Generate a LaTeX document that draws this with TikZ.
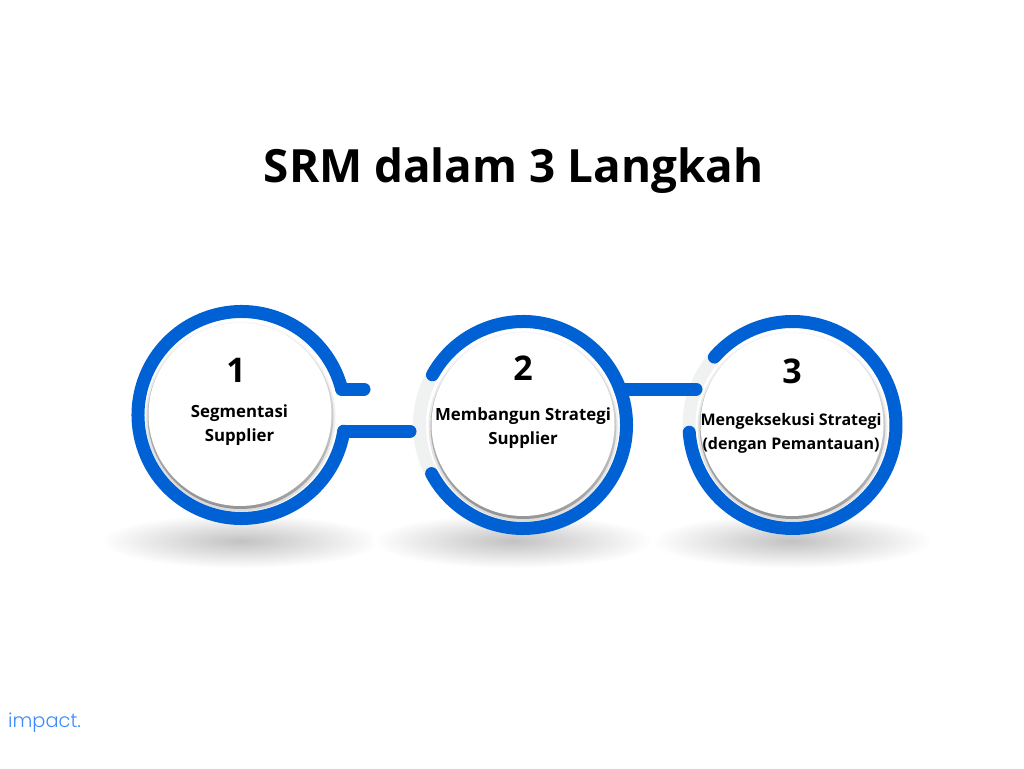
\documentclass[tikz,border=0pt]{standalone}
\usepackage{fontspec}
\setmainfont{Open Sans}
\newfontfamily\logofont{Poppins Light}
\usetikzlibrary{calc}
\definecolor{ringblue}{HTML}{0061D5}
\definecolor{ringgrey}{HTML}{F0F2F2}
\definecolor{logoblue}{HTML}{3B8CFF}
\tikzset{
  disc/.style={circle, fill=white, minimum size=183pt, inner sep=0pt},
  ring/.style={line width=13pt, ringblue, line cap=round},
  track/.style={line width=13pt, ringgrey},
  floor/.style={inner color=black!24, outer color=white},
  halo/.style={top color=black!2, bottom color=black!14, shading angle=-15},
  rim/.style={top color=black!9, bottom color=black!42, shading angle=-15},
  numlabel/.style={font=\bfseries\fontsize{34}{34}\selectfont},
  steplabel/.style={font=\bfseries\fontsize{16.8}{24}\selectfont, align=center}
}
\begin{document}
\begin{tikzpicture}[x=1pt,y=1pt]
  \useasboundingbox (0,0) rectangle (1024,768);
  \fill[white] (0,0) rectangle (1024,768);

  % Title
  \node[font=\bfseries\fontsize{45.8}{46}\selectfont] (title) at (513.5,597) {SRM dalam 3 Langkah};

  % Floor shadows
  \shade[floor] (241,227) ellipse [x radius=140, y radius=27];
  \shade[floor] (513,227) ellipse [x radius=140, y radius=27];
  \shade[floor] (792,227) ellipse [x radius=140, y radius=27];

  % Ring centres
  \coordinate (mid1) at (241.5,353);
  \coordinate (mid2) at (523,343);
  \coordinate (mid3) at (792.5,343);

  % Grey tracks
  \draw[track] (mid2) circle [radius=103.5];
  \draw[track] (mid3) circle [radius=103.5];

  % Rims
  \shade[halo] (240.5,351.5) circle [radius=95];
  \shade[halo] (523.5,341.5) circle [radius=95];
  \shade[halo] (792.5,341.5) circle [radius=95];
  \shade[rim] (240.5,352) circle [radius=93];
  \shade[rim] (523.5,342) circle [radius=93];
  \shade[rim] (792.5,342) circle [radius=93];

  % Discs
  \node[disc] (disc1) at (240,353.5) {};
  \node[disc] (disc2) at (523,343.5) {};
  \node[disc] (disc3) at (792,343.5) {};

  % Blue rings
  \draw[ring] ($(mid1)+(14.5:103.5)$) arc [start angle=14.5, end angle=351, radius=103.5];
  \draw[ring] ($(mid2)+(151:103.5)$) arc [start angle=151, end angle=-152, radius=103.5];
  \draw[ring] ($(mid3)+(139:103.5)$) arc [start angle=139, end angle=-176, radius=103.5];

  % Connectors
  \coordinate (from1) at ($(mid1)+(14.5:103.5)$);
  \coordinate (from2) at ($(mid1)+(-9:103.5)$);
  \coordinate (from3) at ($(mid2)+(20.3:103.5)$);
  \coordinate (stub1) at (364,379);
  \coordinate (end2) at (410,337);
  \coordinate (end3) at (696,379);
  \draw[ring] (from1) -- (from1 -| stub1);
  \draw[ring] (from2) -- (from2 -| end2);
  \draw[ring] (from3) -- (from3 -| end3);

  % Labels
  \node[numlabel] (num1) at (236,398) {1};
  \node[numlabel] (num2) at (523,400) {2};
  \node[numlabel] (num3) at (792,397) {3};
  \node[steplabel] (text1) at (239.5,343) {Segmentasi\\Supplier};
  \node[steplabel] (text2) at (523,340) {Membangun Strategi\\Supplier};
  \node[steplabel, font=\bfseries\fontsize{16}{24}\selectfont] (text3) at (791,334.5) {Mengeksekusi Strategi\\(dengan Pemantauan)};

  % Logo
  \node[font=\logofont\fontsize{19.4}{20}\selectfont, text=logoblue, anchor=west, inner sep=0pt] (logo) at (8,45) {impact.};
\end{tikzpicture}
\end{document}
